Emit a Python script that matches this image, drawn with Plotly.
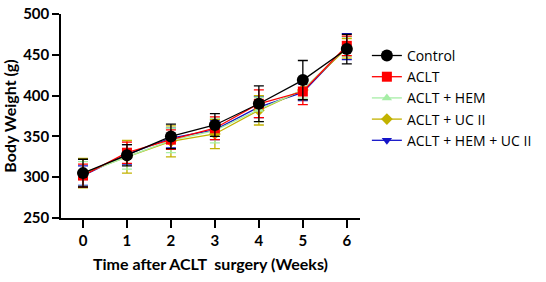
import plotly.graph_objects as go

weeks = [0, 1, 2, 3, 4, 5, 6]
tick_labels = ["0", "1", "2", "3", "4", "5", "6"]

control = [305, 327, 350, 364, 390, 419, 457]
control_err = [17, 13, 15, 14, 22, 24, 18]
aclt = [302, 330, 346, 360, 390, 405, 461]
aclt_err = [14, 13, 12, 14, 17, 16, 12]
aclt_hem = [304, 325, 345, 357, 383, 407, 460]
aclt_hem_err = [15, 15, 15, 15, 15, 10, 12]
aclt_uc = [305, 325, 344, 353, 382, 407, 458]
aclt_uc_err = [18, 20, 19, 18, 18, 12, 12]
aclt_hem_uc = [302, 328, 348, 358, 386, 404, 460]
aclt_hem_uc_err = [12, 12, 12, 12, 13, 10, 16]

series = [
    ("ACLT + HEM + UC II", aclt_hem_uc, aclt_hem_uc_err, "#1414c8", "triangle-down", 9),
    ("ACLT + UC II", aclt_uc, aclt_uc_err, "#c2b200", "diamond", 9),
    ("ACLT + HEM", aclt_hem, aclt_hem_err, "#a6eea6", "triangle-up", 9),
    ("ACLT", aclt, aclt_err, "#ff0000", "square", 10),
    ("Control", control, control_err, "#000000", "circle", 12),
]

fig = go.Figure()
for name, vals, errs, color, sym, size in series:
    fig.add_trace(go.Scatter(
        x=weeks, y=vals, name=name, mode="lines+markers",
        line=dict(color=color, width=1.3),
        marker=dict(symbol=sym, size=size, color=color),
        error_y=dict(type="data", array=errs, visible=True, color=color, thickness=1.3, width=5),
    ))

FAM = "Lato, Arial, sans-serif"
fig.update_layout(
    width=546, height=282,
    margin=dict(l=61, r=186, t=14, b=64, autoexpand=False),
    plot_bgcolor="white", paper_bgcolor="white",
    font=dict(family=FAM, color="#000"),
    showlegend=True,
    legend=dict(
        traceorder="reversed", x=1.023, y=0.873, xanchor="left", yanchor="top",
        font=dict(family="Open Sans, Lato, sans-serif", size=14, color="#000"),
        tracegroupgap=0, itemwidth=30, bgcolor="rgba(0,0,0,0)",
    ),
    xaxis=dict(
        range=[-0.5, 6.3], tickmode="array", tickvals=weeks, ticktext=tick_labels,
        showline=True, linecolor="#000", linewidth=1.5, ticks="outside", ticklen=8,
        tickwidth=1.5, tickcolor="#000", showgrid=False, zeroline=False, automargin=False,
        ticklabelstandoff=0,
        tickfont=dict(family=FAM, size=15, color="#000", weight="bold"),
        title=dict(text="<b>Time after ACLT\u00a0 surgery (Weeks)</b>", font=dict(family=FAM, size=16, color="#000"), standoff=11),
    ),
    yaxis=dict(
        range=[250, 500], tickvals=[250, 300, 350, 400, 450, 500],
        showline=True, linecolor="#000", linewidth=1.5, ticks="outside", ticklen=7,
        tickwidth=1.5, tickcolor="#000", showgrid=False, zeroline=False, automargin=False,
        tickfont=dict(family=FAM, size=15, color="#000", weight="bold"),
        title=dict(text="<b>Body Weight (g)</b>", font=dict(family=FAM, size=16, color="#000"), standoff=6),
    ),
)

# remove the browser's default 8px body margin so the figure sits at the page origin
fig.write_html("out.html", config={"displayModeBar": False},
               post_script="document.body.style.margin='0px';")
